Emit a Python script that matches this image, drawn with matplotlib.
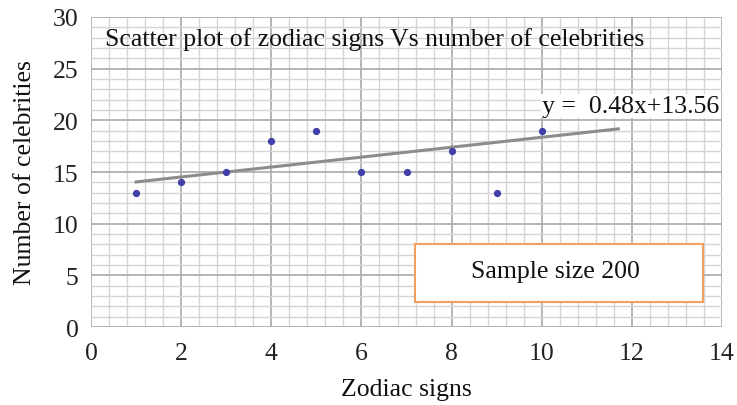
import numpy as np
import matplotlib.pyplot as plt
from matplotlib.patches import Rectangle
from matplotlib.ticker import MultipleLocator

# zodiac sign index vs number of celebrities
signs = [1, 2, 3, 4, 5, 6, 7, 8, 9, 10]
celebs = [13, 14, 15, 18, 19, 15, 15, 17, 13, 19]

# linear trend as printed on the chart
slope, intercept = 0.48, 13.56
trend_x = np.array([1, 11.7])

plt.rcParams['font.family'] = ['Liberation Serif', 'DejaVu Serif']
fs = 18.5

fig = plt.figure(figsize=(7.37, 4.06), dpi=100)
ax = fig.add_axes([0.1235, 0.192, 0.8562, 0.7637])

ax.set_xlim(0, 14)
ax.set_ylim(0, 30)
ax.xaxis.set_major_locator(MultipleLocator(2))
ax.xaxis.set_minor_locator(MultipleLocator(0.4))
ax.yaxis.set_major_locator(MultipleLocator(5))
ax.yaxis.set_minor_locator(MultipleLocator(1))
ax.grid(which='major', color='#b0b0b0', lw=1.3)
ax.grid(which='minor', color='#d4d4d4', lw=1.0)
ax.set_axisbelow(True)
for s in ax.spines.values():
    s.set_visible(False)
ax.tick_params(which='both', length=0, labelsize=fs, colors='#222222', pad=9)
ax.tick_params(axis='x', pad=11)

ax.plot(trend_x, slope * trend_x + intercept, color='#8c8c8c', lw=2.2, zorder=2)
ax.plot(signs, celebs, ls='none', marker='o', ms=4.2, color='#4040a8', zorder=3)

ax.text(0.022, 0.929, 'Scatter plot of zodiac signs Vs number of celebrities',
        transform=ax.transAxes, fontsize=fs, va='center', ha='left', color='#111111')
ax.text(0.715, 0.713, 'y =  %.2fx+%.2f' % (slope, intercept), transform=ax.transAxes,
        fontsize=fs, va='center', ha='left', color='#111111',
        bbox=dict(facecolor='white', edgecolor='none', pad=1))

ax.add_patch(Rectangle((0.5135, 0.0806), 0.456, 0.187, transform=ax.transAxes,
                       facecolor='white', edgecolor='#f0a060', lw=1.5, zorder=4))
ax.text(0.736, 0.18, 'Sample size 200', transform=ax.transAxes, fontsize=fs,
        ha='center', va='center', color='#111111', zorder=5)

ax.set_xlabel('Zodiac signs', fontsize=fs, labelpad=10, color='#111111')
ax.set_ylabel('Number of celebrities', fontsize=fs, labelpad=12, color='#111111')

fig.savefig('out.png', dpi=100, facecolor='white')
